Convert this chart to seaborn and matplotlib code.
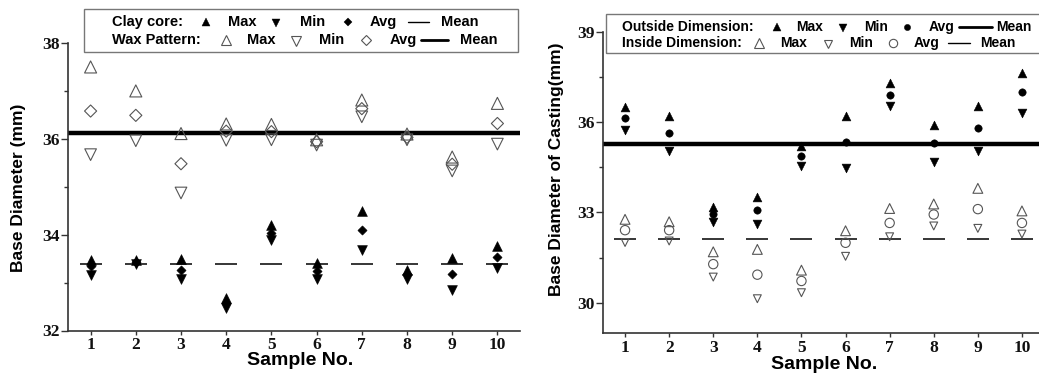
import numpy as np
import pandas as pd
import matplotlib
matplotlib.use("Agg")
import matplotlib.pyplot as plt
import seaborn as sns
from matplotlib.lines import Line2D
from matplotlib.patches import Rectangle
from matplotlib.ticker import MultipleLocator

# ---------------- data ----------------
samples = [1, 2, 3, 4, 5, 6, 7, 8, 9, 10]

# Left panel: clay core (filled) and wax pattern (open)
clay_max = [33.48, 33.48, 33.49, 32.68, 34.20, 33.41, 34.49, 33.27, 33.52, 33.76]
clay_min = [33.16, 33.39, 33.07, 32.48, 33.88, 33.07, 33.67, 33.07, 32.84, 33.31]
clay_avg = [33.34, 33.44, 33.27, 32.58, 34.03, 33.24, 34.09, 33.17, 33.17, 33.53]
clay_mean = 33.39

wax_max = [37.50, 37.00, 36.11, 36.31, 36.30, 35.98, 36.81, 36.10, 35.62, 36.74]
wax_min = [35.67, 35.96, 34.87, 35.97, 35.98, 35.87, 36.46, 35.98, 35.33, 35.89]
wax_avg = [36.58, 36.49, 35.48, 36.16, 36.15, 35.94, 36.63, 36.03, 35.47, 36.32]
wax_mean = 36.12

# Right panel: outside dimension (filled) and inside dimension (open)
out_max = [36.52, 36.19, 33.19, 33.52, 35.22, 36.19, 37.30, 35.91, 36.55, 37.65]
out_min = [35.74, 35.04, 32.67, 32.63, 34.55, 34.47, 36.54, 34.69, 35.05, 36.32]
out_avg = [36.13, 35.63, 32.94, 33.08, 34.89, 35.35, 36.91, 35.30, 35.80, 36.99]
out_mean = 35.29

in_max = [32.77, 32.69, 31.69, 31.77, 31.08, 32.39, 33.13, 33.28, 33.80, 33.05]
in_min = [32.00, 32.05, 30.85, 30.13, 30.33, 31.54, 32.19, 32.55, 32.47, 32.28]
in_avg = [32.41, 32.41, 31.28, 30.93, 30.72, 31.99, 32.65, 32.93, 33.11, 32.65]
in_mean = 32.11

left_yticks = [32, 34, 36, 38]
right_yticks = [30, 33, 36, 39]

# ---------------- style ----------------
sns.set_theme(style="ticks")
plt.rcParams['font.family'] = ['Liberation Sans', 'DejaVu Sans']

W, H = 1039, 376
fig = plt.figure(figsize=(W / 100, H / 100), dpi=100)

def fx(x):
    return x / W

def fy(y):
    return 1 - y / H

ax1 = fig.add_axes([fx(68), fy(330.5), fx(452), 287.5 / H])
ax2 = fig.add_axes([fx(603), fy(332.7), fx(441), 300.7 / H])

spine_col = '#333333'
open_col = '#555555'

def style_axis(ax, yticks, ylim, minor):
    ax.set_xlim(0.5, 10.5)
    ax.set_ylim(*ylim)
    ax.set_xticks(samples)
    ax.set_yticks(yticks)
    ax.yaxis.set_minor_locator(MultipleLocator(minor))
    for s in ['top', 'right']:
        ax.spines[s].set_visible(False)
    for s in ['left', 'bottom']:
        ax.spines[s].set_color(spine_col)
        ax.spines[s].set_linewidth(1.2)
    ax.tick_params(axis='y', which='major', length=5, width=1, color=spine_col,
                   direction='out', pad=1)
    ax.tick_params(axis='y', which='minor', length=3, width=1, color=spine_col,
                   direction='out', left=True)
    ax.tick_params(axis='x', which='major', length=3, width=1, color=spine_col,
                   direction='out', pad=2)
    ax.tick_params(axis='x', which='minor', bottom=False)
    for lab in ax.get_xticklabels() + ax.get_yticklabels():
        lab.set_family('Liberation Serif')
        lab.set_fontweight('bold')
        lab.set_fontsize(12.5)
        lab.set_color('#111111')
    ax.grid(False)
    ax.set_facecolor('white')

def filled(ax, y, marker, s):
    sns.scatterplot(x=samples, y=y, marker=marker, s=s, color='black',
                    edgecolor='black', linewidth=0.4, ax=ax, zorder=4)

def hollow(ax, y, marker, s):
    sns.scatterplot(x=samples, y=y, marker=marker, s=s, facecolor='none',
                    edgecolor=open_col, linewidth=0.8, ax=ax, zorder=4)

def mean_ticks(ax, m):
    sns.scatterplot(x=samples, y=[m] * len(samples), marker='_', s=16 ** 2,
                    color='black', linewidth=1.1, ax=ax, zorder=3)

# ---- left panel ----
hollow(ax1, wax_max, '^', 75)
hollow(ax1, wax_min, 'v', 70)
hollow(ax1, wax_avg, 'D', 38)
ax1.axhline(wax_mean, color='black', lw=3.2, zorder=2)
filled(ax1, clay_max, '^', 50)
filled(ax1, clay_min, 'v', 50)
filled(ax1, clay_avg, 'D', 22)
mean_ticks(ax1, clay_mean)
style_axis(ax1, left_yticks, (32, 38), 1)

ax1.set_xlabel('Sample No.', fontsize=14, fontweight='bold', color='black')
ax1.xaxis.set_label_coords(0.513, -0.105)
ax1.xaxis.label.set_va('center')
ax1.set_ylabel('Base Diameter (mm)', fontsize=12.5, fontweight='bold',
               color='black', va='center')
ax1.yaxis.set_label_coords(-0.11, 0.498)

# ---- right panel ----
filled(ax2, out_max, '^', 40)
filled(ax2, out_min, 'v', 40)
filled(ax2, out_avg, 'o', 28)
ax2.axhline(out_mean, color='black', lw=3.2, zorder=2)
hollow(ax2, in_max, '^', 50)
hollow(ax2, in_min, 'v', 32)
hollow(ax2, in_avg, 'o', 45)
mean_ticks(ax2, in_mean)
style_axis(ax2, right_yticks, (29, 39), 1.5)

ax2.set_xlabel('Sample No.', fontsize=14, fontweight='bold', color='black')
ax2.xaxis.set_label_coords(0.501, -0.106)
ax2.xaxis.label.set_va('center')
ax2.set_ylabel('Base Diameter of Casting(mm)', fontsize=12.5, fontweight='bold',
               color='black', va='center')
ax2.yaxis.set_label_coords(-0.106, 0.545)

# ---------------- custom legends ----------------
def box(x0, y0, x1, y1):
    fig.add_artist(Rectangle((fx(x0), fy(y1)), fx(x1 - x0), (y1 - y0) / H,
                             transform=fig.transFigure, fill=False,
                             edgecolor='#777777', lw=1.0))

def txt(x, y, s, size):
    fig.text(fx(x), fy(y), s, ha='left', va='center', fontsize=size,
             fontweight='bold', color='black')

def mk(x, y, marker, ms, fill=True):
    if fill:
        fig.add_artist(Line2D([fx(x)], [fy(y)], marker=marker, ms=ms,
                              color='black', mec='black', mew=0.3, ls='none',
                              transform=fig.transFigure))
    else:
        fig.add_artist(Line2D([fx(x)], [fy(y)], marker=marker, ms=ms,
                              mfc='none', mec=open_col, mew=0.8, ls='none',
                              transform=fig.transFigure))

def ln(x0, x1, y, lw):
    fig.add_artist(Line2D([fx(x0), fx(x1)], [fy(y), fy(y)], color='black',
                          lw=lw, transform=fig.transFigure))

# left legend
box(84, 9, 518, 52)
r1, r2, fs = 22, 40, 10.5
txt(112, r1, 'Clay core:', fs)
mk(206, r1, '^', 5.5)
txt(228, r1, 'Max', fs)
mk(276, r1 + 1, 'v', 5.5)
txt(300, r1, 'Min', fs)
mk(348, r1, 'D', 3.8)
txt(370, r1, 'Avg', fs)
ln(408, 429, r1, 1.0)
txt(441, r1, 'Mean', fs)

txt(112, r2, 'Wax Pattern:', fs)
mk(226, r2, '^', 7.5, fill=False)
txt(247, r2, 'Max', fs)
mk(296, r2 + 1, 'v', 6.5, fill=False)
txt(319, r2, 'Min', fs)
mk(366, r2, 'D', 5.5, fill=False)
txt(390, r2, 'Avg', fs)
ln(421, 448, r2, 2.0)
txt(460, r2, 'Mean', fs)

# right legend
box(606, 14, 1046, 53)
q1, q2, fs2 = 27, 43, 10
txt(622, q1, 'Outside Dimension:', fs2)
mk(777, q1, '^', 6)
txt(796, q1, 'Max', fs2)
mk(843, q1 + 1, 'v', 6)
txt(864, q1, 'Min', fs2)
mk(907, q1, 'o', 4.5)
txt(929, q1, 'Avg', fs2)
ln(959, 992, q1, 2.0)
txt(996, q1, 'Mean', fs2)

txt(622, q2, 'Inside Dimension:', fs2)
mk(759, q2, '^', 7, fill=False)
txt(780, q2, 'Max', fs2)
mk(828, q2 + 1, 'v', 5.5, fill=False)
txt(849, q2, 'Min', fs2)
mk(893, q2, 'o', 6, fill=False)
txt(914, q2, 'Avg', fs2)
ln(948, 970, q2, 1.0)
txt(980, q2, 'Mean', fs2)

fig.savefig('out.png', dpi=100, facecolor='white')
